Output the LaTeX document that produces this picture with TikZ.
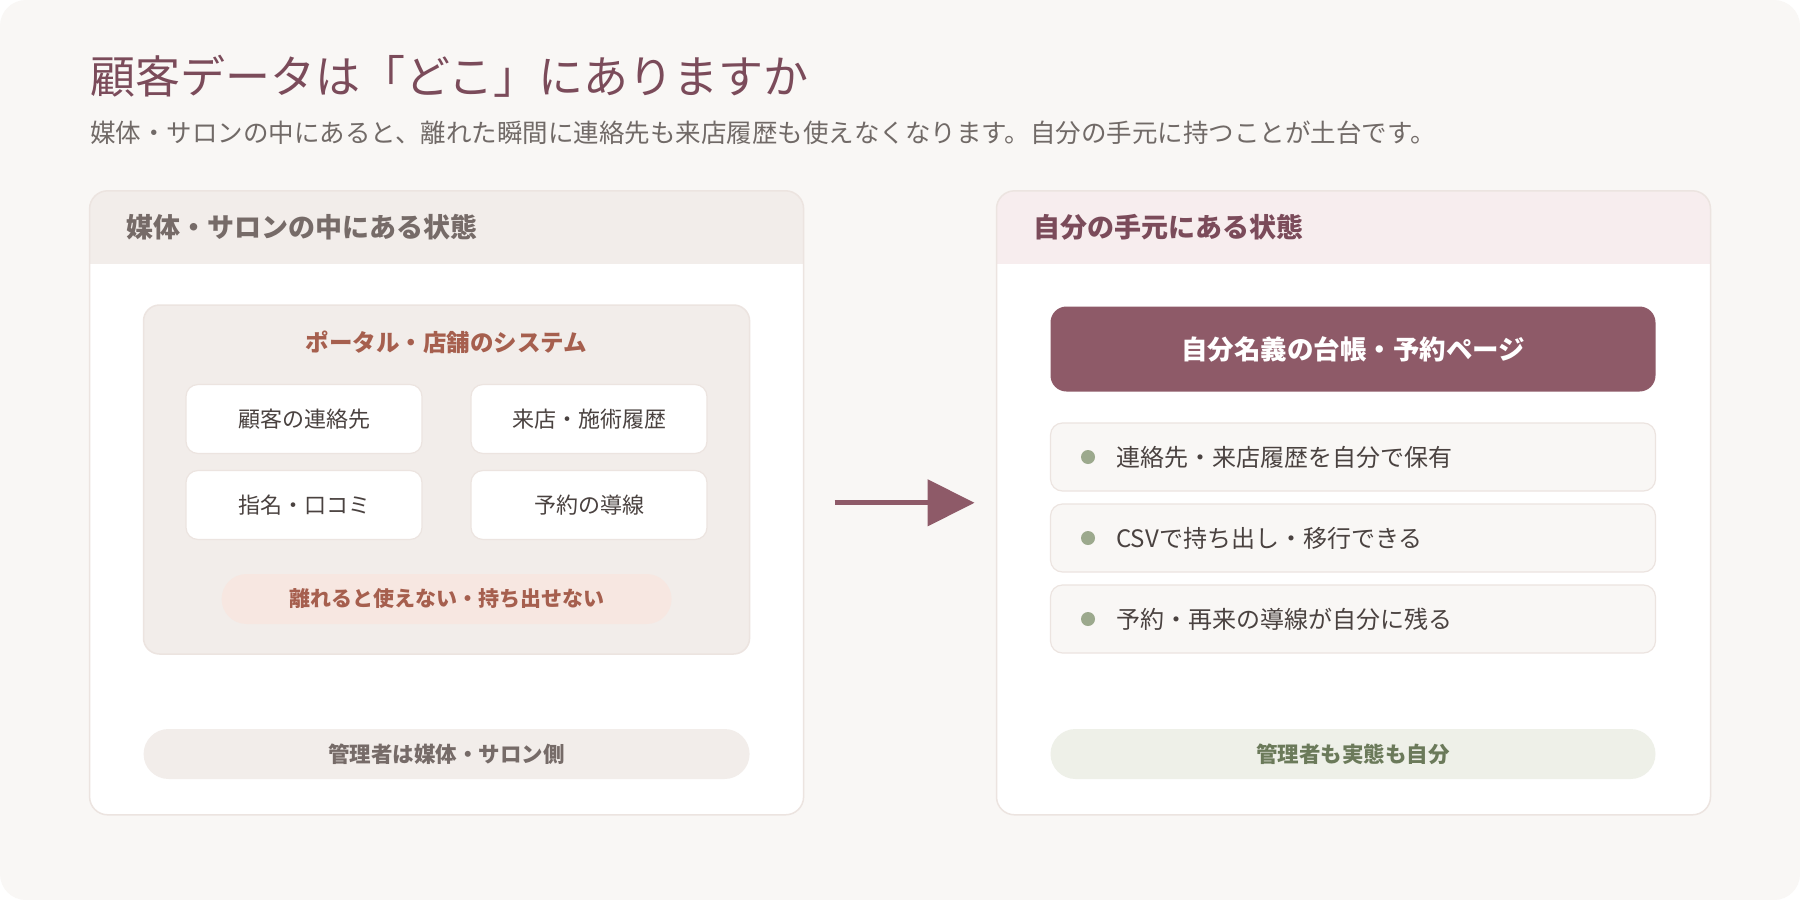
\documentclass[tikz,border=0pt]{standalone}
\usepackage{fontspec}
\setmainfont{Noto Sans CJK JP}
\usetikzlibrary{arrows.meta, positioning}
\definecolor{pagebg}{HTML}{F9F7F5}
\definecolor{plum}{HTML}{8E5A68}
\definecolor{titleplum}{HTML}{7B4B5A}
\definecolor{subgray}{HTML}{716A67}
\definecolor{paneline}{HTML}{ECE4E0}
\definecolor{sandfill}{HTML}{F2EDEA}
\definecolor{rosefill}{HTML}{F7EDEE}
\definecolor{terra}{HTML}{A65F4E}
\definecolor{peachfill}{HTML}{F7E7E1}
\definecolor{inktext}{HTML}{4A4240}
\definecolor{mutedtext}{HTML}{766B68}
\definecolor{sagedot}{HTML}{9CA98D}
\definecolor{sagefill}{HTML}{EEF0E8}
\definecolor{sagetext}{HTML}{6B7A5A}

\tikzset{
  panel/.style={fill=white, outer sep=0pt, minimum width=714pt, minimum height=624pt, rounded corners=18pt},
  panelborder/.style={draw=paneline, line width=1.5pt, rounded corners=18pt},
  headtext/.style={anchor=west, inner sep=0pt, font=\fontsize{27}{31}\selectfont\bfseries},
  cell/.style={draw=paneline, line width=1.2pt, fill=white, rounded corners=12pt,
    minimum width=236pt, minimum height=69pt, font=\fontsize{22}{26}\selectfont, text=inktext},
  pill/.style={rounded corners=25pt, minimum height=50pt, font=\fontsize{21}{25}\selectfont\bfseries},
  item/.style={draw=paneline, line width=1.2pt, fill=pagebg, rounded corners=12pt,
    minimum width=605pt, minimum height=68pt},
  itemtext/.style={anchor=west, inner sep=0pt, text=inktext, font=\fontsize{24}{28}\selectfont},
  dot/.style={circle, fill=sagedot, inner sep=0pt, minimum size=14pt},
  flow/.style={-{Triangle[length=47pt, width=46pt]}, line width=5pt, draw=plum}
}

\begin{document}
\begin{tikzpicture}[x=1pt, y=-1pt]
  \useasboundingbox (0,0) rectangle (1800,900);

  % Page
  \fill[white] (0,0) rectangle (1800,900);
  \fill[pagebg, rounded corners=26pt] (0,0) rectangle (1800,900);

  % Heading
  \node[anchor=west, inner sep=0pt, text=titleplum, font=\fontsize{45}{52}\selectfont] (title) at (90,76) {顧客データは「どこ」にありますか};
  \node[anchor=west, inner sep=0pt, text=subgray, font=\fontsize{25.5}{30}\selectfont] (subtitle) at (90,133) {媒体・サロンの中にあると、離れた瞬間に連絡先も来店履歴も使えなくなります。自分の手元に持つことが土台です。};

  % Left panel
  \node[panel] (lpanel) at (446.6,502.8) {};
  \begin{scope}
    \clip[rounded corners=18pt] (lpanel.north west) rectangle (lpanel.south east);
    \fill[sandfill] (lpanel.north west) rectangle ([yshift=-73.4pt]lpanel.north east);
  \end{scope}
  \draw[panelborder] (lpanel.north west) rectangle (lpanel.south east);
  \node[headtext, text=mutedtext] (lhead) at (126,227) {媒体・サロンの中にある状態};

  % System box
  \draw[fill=sandfill, draw=paneline, line width=1.5pt, rounded corners=16pt] (143.5,305) rectangle (749.6,654);
  \node[text=terra, font=\fontsize{23.5}{28}\selectfont\bfseries] (systitle) at (446.6,342) {ポータル・店舗のシステム};

  \node[cell] (contact) at (304,419) {顧客の連絡先};
  \node[cell] (history) at (589,419) {来店・施術履歴};
  \node[cell] (review) at (304,505) {指名・口コミ};
  \node[cell] (booking) at (589,505) {予約の導線};

  \node[pill, fill=peachfill, text=terra, minimum width=450pt] (lockin) at (446.6,599) {離れると使えない・持ち出せない};
  \node[pill, fill=sandfill, text=mutedtext, minimum width=606pt, font=\fontsize{21.5}{25}\selectfont\bfseries] (ladmin) at (446.6,754) {管理者は媒体・サロン側};

  % Right panel
  \node[panel] (rpanel) at (1353.5,502.8) {};
  \begin{scope}
    \clip[rounded corners=18pt] (rpanel.north west) rectangle (rpanel.south east);
    \fill[rosefill] (rpanel.north west) rectangle ([yshift=-73.4pt]rpanel.north east);
  \end{scope}
  \draw[panelborder] (rpanel.north west) rectangle (rpanel.south east);
  \node[headtext, text=titleplum] (rhead) at (1033,227) {自分の手元にある状態};

  \node[fill=plum, rounded corners=16pt, minimum width=605pt, minimum height=85pt, text=white,
    font=\fontsize{26.5}{30}\selectfont\bfseries] (ledger) at (1353,349) {自分名義の台帳・予約ページ};

  \foreach \y/\name/\txt in {457/own/連絡先・来店履歴を自分で保有,
                             538/csv/CSVで持ち出し・移行できる,
                             619/keep/予約・再来の導線が自分に残る} {
    \node[item] (\name) at (1353,\y) {};
    \node[dot] (\name dot) at (1088,\y) {};
    \node[itemtext] (\name txt) at (1116,\y) {\txt};
  }

  \node[pill, fill=sagefill, text=sagetext, minimum width=605pt, font=\fontsize{21.5}{25}\selectfont\bfseries] (radmin) at (1353,754) {管理者も実態も自分};

  % Arrow
  \draw[flow] ([xshift=31pt]lpanel.east) -- ([xshift=-22pt]rpanel.west);
\end{tikzpicture}
\end{document}
